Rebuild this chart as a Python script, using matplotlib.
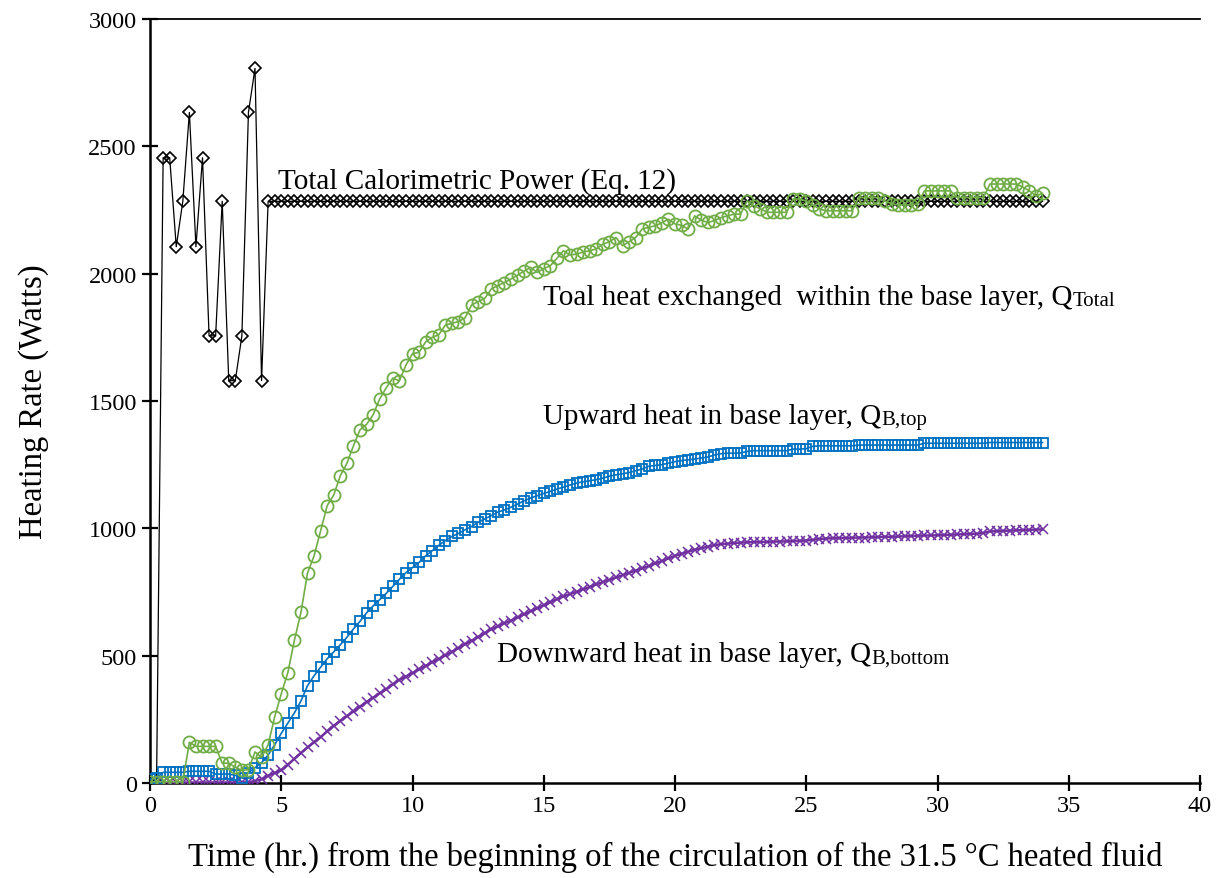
import matplotlib
matplotlib.use("Agg")
import matplotlib.pyplot as plt
import numpy as np

plt.rcParams['font.family'] = ['Liberation Serif', 'DejaVu Serif']

# Readings every 15 minutes from the start of circulation (hr)
time_hr = np.arange(137) * 0.25

# Total calorimetric power (W)
total_power = [
    0, 0, 2455, 2455, 2106, 2284, 2633, 2106, 2455, 1756, 1756, 2284,
    1580, 1580, 1756, 2633, 2806, 1580, 2284,
    2284, 2284, 2284, 2284, 2284, 2284, 2284, 2284, 2284, 2284, 2284, 2284,
    2284, 2284, 2284, 2284, 2284, 2284, 2284, 2284, 2284, 2284, 2284, 2284,
    2284, 2284, 2284, 2284, 2284, 2284, 2284, 2284, 2284, 2284, 2284, 2284,
    2284, 2284, 2284, 2284, 2284, 2284, 2284, 2284, 2284, 2284, 2284, 2284,
    2284, 2284, 2284, 2284, 2284, 2284, 2284, 2284, 2284, 2284, 2284, 2284,
    2284, 2284, 2284, 2284, 2284, 2284, 2284, 2284, 2284, 2284, 2284, 2284,
    2284, 2284, 2284, 2284, 2284, 2284, 2284, 2284, 2284, 2284, 2284, 2284,
    2284, 2284, 2284, 2284, 2284, 2284, 2284, 2284, 2284, 2284, 2284, 2284,
    2284, 2284, 2284, 2284, 2284, 2284, 2284, 2284, 2284, 2284, 2284, 2284,
    2284, 2284, 2284, 2284, 2284, 2284, 2284, 2284, 2284, 2284,
]

# Total heat exchanged within the base layer (W)
q_total = [
    5, 5, 5, 5, 5, 5,
    160, 144, 144, 144, 144,
    78, 78, 62, 50, 52,
    122, 101, 150, 260, 350,
    433, 560, 670, 824, 892,
    991, 1089, 1131, 1207, 1255,
    1324, 1387, 1408, 1446, 1508,
    1552, 1590, 1579, 1641, 1686,
    1691, 1732, 1750, 1760, 1798,
    1805, 1812, 1826, 1877, 1890,
    1903, 1940, 1953, 1965, 1979,
    1994, 2010, 2025, 2005, 2020,
    2031, 2060, 2090, 2073, 2077,
    2085, 2090, 2097, 2116, 2125,
    2142, 2110, 2125, 2142, 2175,
    2182, 2188, 2200, 2214, 2195,
    2190, 2175, 2227, 2210, 2201,
    2208, 2220, 2227, 2234, 2234,
    2286, 2267, 2255, 2241, 2241,
    2241, 2241, 2293, 2293, 2285,
    2270, 2254, 2247, 2247, 2247,
    2247, 2247, 2299, 2299, 2299,
    2299, 2285, 2275, 2270, 2270,
    2270, 2275, 2325, 2325, 2325,
    2325, 2325, 2299, 2299, 2299,
    2299, 2299, 2352, 2352, 2352,
    2352, 2352, 2340, 2325, 2305,
    2315,
]

# Upward heat in base layer (W)
q_b_top = [
    15, 20, 42, 42, 42, 42,
    46, 46, 46, 46, 35,
    35, 35, 30, 20, 40,
    60, 80, 110, 150, 195,
    235, 275, 322, 382, 421,
    455, 488, 515, 543, 572,
    605, 635, 668, 695, 720,
    745, 772, 800, 826, 846,
    866, 892, 912, 933, 952,
    968, 980, 994, 1007, 1024,
    1037, 1050, 1064, 1072, 1083,
    1095, 1108, 1119, 1128, 1137,
    1145, 1154, 1162, 1170, 1178,
    1183, 1187, 1191, 1197, 1205,
    1210, 1214, 1219, 1226, 1233,
    1244, 1247, 1250, 1256, 1262,
    1266, 1269, 1272, 1276, 1280,
    1288, 1293, 1295, 1295, 1296,
    1302, 1305, 1305, 1305, 1305,
    1305, 1305, 1311, 1311, 1313,
    1322, 1324, 1324, 1324, 1324,
    1324, 1324, 1327, 1327, 1327,
    1327, 1327, 1327, 1327, 1327,
    1327, 1327, 1334, 1334, 1334,
    1334, 1334, 1334, 1334, 1334,
    1334, 1334, 1337, 1337, 1337,
    1337, 1337, 1337, 1337, 1337,
    1337,
]

# Downward heat in base layer (W)
q_b_bottom = [
    2, 2, 2, 2, 2, 2, 2, 2, 2, 2, 2, 2, 2, 2, 2,
    3, 8, 15, 28, 40, 50,
    72, 95, 118, 140, 160,
    180, 203, 225, 244, 262,
    281, 300, 318, 335, 352,
    368, 387, 405, 418, 432,
    446, 460, 474, 487, 501,
    515, 530, 545, 559, 573,
    588, 604, 615, 627, 638,
    650, 662, 675, 686, 698,
    710, 722, 733, 742, 751,
    760, 770, 780, 789, 798,
    807, 816, 825, 834, 843,
    852, 862, 872, 882, 892,
    900, 908, 916, 922, 928,
    934, 938, 940, 942, 944,
    945, 946, 946, 947, 948,
    948, 949, 950, 951, 952,
    955, 958, 960, 961, 962,
    962, 963, 964, 964, 965,
    966, 967, 967, 968, 969,
    970, 971, 972, 972, 973,
    974, 975, 976, 977, 978,
    979, 982, 988, 989, 990,
    991, 992, 993, 994, 995,
    996,
]

x_ticks = [0, 5, 10, 15, 20, 25, 30, 35, 40]
y_ticks = [0, 500, 1000, 1500, 2000, 2500, 3000]

fig = plt.figure(figsize=(12.24, 8.79), dpi=100)
ax = fig.add_axes([150 / 1224, 1 - 784 / 879, 1050 / 1224, 764 / 879])

ax.plot(time_hr, total_power, color='black', lw=0.9, marker='D', ms=6.3,
        mfc='none', mec='black', mew=1.2, zorder=2)
ax.plot(time_hr, q_b_bottom, color='#7030A0', lw=1.8, marker='x', ms=7.5,
        mew=1.1, zorder=3)
ax.plot(time_hr, q_b_top, color='#0070C0', lw=1.2, marker='s', ms=7,
        mfc='none', mec='#0070C0', mew=1.3, zorder=4)
ax.plot(time_hr, q_total, color='#70AD47', lw=1.2, marker='o', ms=8.7,
        mfc='none', mec='#70AD47', mew=1.3, zorder=5)

ax.set_xlim(0, 40)
ax.set_ylim(0, 3000)
ax.set_xticks(x_ticks)
ax.set_yticks(y_ticks)

ax.spines['right'].set_visible(False)
ax.spines['top'].set_linewidth(1.3)
for side in ('left', 'bottom'):
    ax.spines[side].set_linewidth(1.8)
    ax.spines[side].set_color('black')

ax.tick_params(axis='both', direction='inout', length=11, width=1.6,
               labelsize=17.5, colors='black')
ax.tick_params(axis='x', top=False, pad=3)
ax.tick_params(axis='y', pad=4)

ax.set_xlabel('Time (hr.) from the beginning of the circulation of the 31.5 °C heated fluid',
              fontsize=23.5, labelpad=18)
ax.set_ylabel('Heating Rate (Watts)', fontsize=23.5, labelpad=28)


def label_with_sub(x, y, main, sub, size=21, sub_size=15):
    t = ax.text(x, y, main, fontsize=size, ha='left', va='baseline', zorder=6)
    ax.annotate(sub, xy=(1, 0), xycoords=t, fontsize=sub_size,
                ha='left', va='bottom', zorder=6)
    return t


ax.text(4.88, 2339, 'Total Calorimetric Power (Eq. 12)', fontsize=21,
        ha='left', va='baseline', zorder=6)
label_with_sub(14.97, 1881, 'Toal heat exchanged  within the base layer, Q', 'Total')
label_with_sub(14.97, 1414, 'Upward heat in base layer, Q', 'B,top')
label_with_sub(13.22, 478, 'Downward heat in base layer, Q', 'B,bottom')

fig.savefig('out.png', dpi=100)
